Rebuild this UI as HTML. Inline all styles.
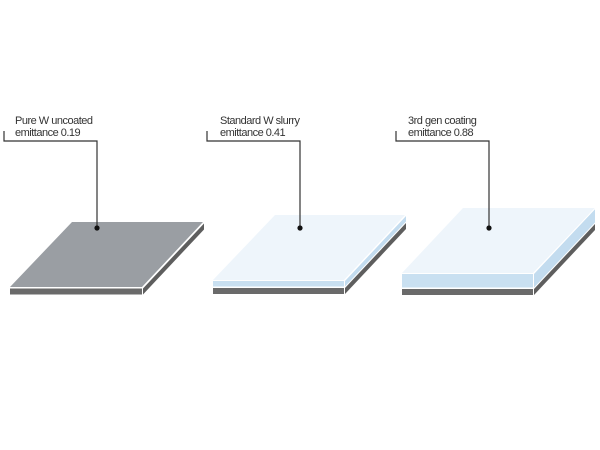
<!DOCTYPE html>
<html>
<head>
<meta charset="utf-8">
<style>
  html,body{margin:0;padding:0;background:#fff;}
  svg{display:block;}
  text{font-family:"Liberation Sans",Arial,sans-serif;font-size:11px;fill:#333;letter-spacing:-0.5px;}
</style>
</head>
<body>
<svg width="600" height="450" viewBox="0 0 600 450" xmlns="http://www.w3.org/2000/svg">
  <rect width="600" height="450" fill="#fff"/>

  <!-- Plate 1 -->
  <g>
    <!-- dark base -->
    <rect x="10" y="288.5" width="132" height="6" fill="#6a6a6a"/>
    <polygon points="143,288.5 204,223.5 204,229.5 143,294.5" fill="#5e5e5e"/>
    <!-- top face -->
    <polygon points="72,222 203,222 142,287 10,287" fill="#9a9ea3"/>
    <polyline points="10,287.5 142.5,287.5 203.5,222.5" fill="none" stroke="#fff" stroke-width="1"/>
  </g>

  <!-- Plate 2 -->
  <g>
    <rect x="213" y="288" width="131" height="6" fill="#6a6a6a"/>
    <polygon points="345,288 406,223 406,229 345,294" fill="#5e5e5e"/>
    <rect x="213" y="281" width="131" height="5.5" fill="#c9e0f1"/>
    <polygon points="345,281 406,216 406,221.5 345,286.5" fill="#c3dcef"/>
    <polygon points="275,215 405,215 344,280 213,280" fill="#eef5fb"/>
    <polyline points="213,280.5 344.5,280.5 405.5,215.5" fill="none" stroke="#fff" stroke-width="1"/>
  </g>

  <!-- Plate 3 -->
  <g>
    <rect x="402" y="289" width="131" height="6" fill="#6a6a6a"/>
    <polygon points="534,289 595,224 595,230 534,295" fill="#5e5e5e"/>
    <rect x="402" y="274" width="131" height="13.5" fill="#c9e0f1"/>
    <polygon points="534,274 595,209 595,222.5 534,287.5" fill="#c3dcef"/>
    <polygon points="463,208 595,208 533,273 402,273" fill="#eef5fb"/>
    <polyline points="402,273.5 533.5,273.5 595,208.5" fill="none" stroke="#fff" stroke-width="1"/>
  </g>

  <!-- Leaders -->
  <g fill="none" stroke="#333" stroke-width="1.2">
    <polyline points="4,131 4,141 97,141 97,228"/>
    <polyline points="207,131 207,141 300,141 300,228"/>
    <polyline points="396,131 396,141 489,141 489,228"/>
  </g>
  <g fill="#111">
    <circle cx="97" cy="228" r="2.6"/>
    <circle cx="300" cy="228" r="2.6"/>
    <circle cx="489" cy="228" r="2.6"/>
  </g>

  <!-- Labels -->
  <text x="15" y="124">Pure W uncoated</text>
  <text x="15" y="136">emittance 0.19</text>
  <text x="220" y="124">Standard W slurry</text>
  <text x="220" y="136">emittance 0.41</text>
  <text x="408" y="124">3rd gen coating</text>
  <text x="408" y="136">emittance 0.88</text>
</svg>
</body>
</html>
